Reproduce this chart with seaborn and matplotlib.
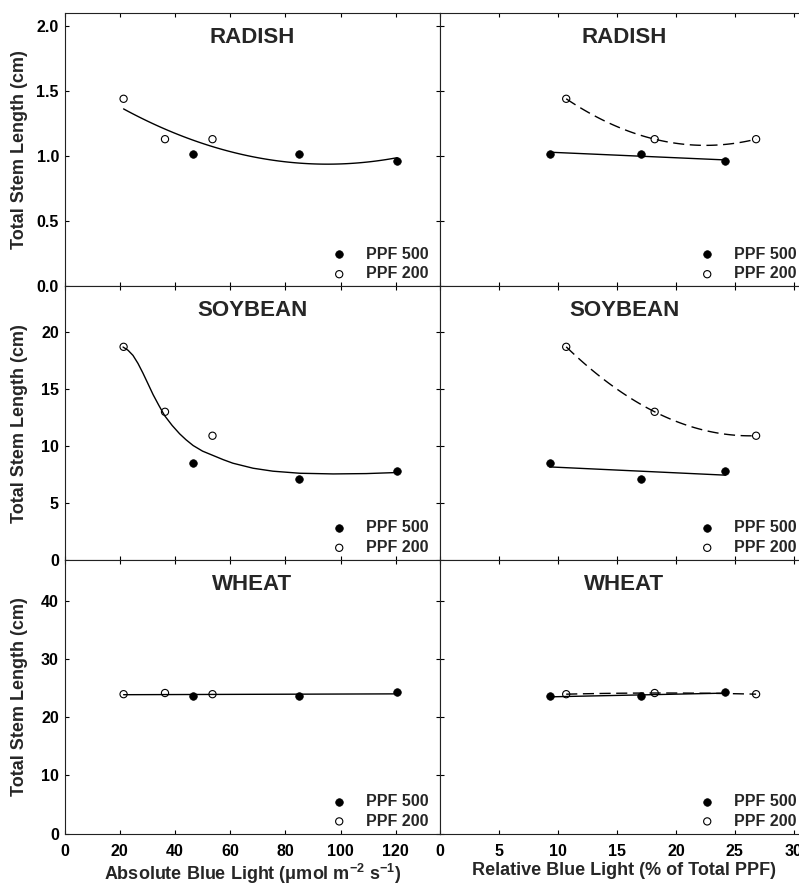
import numpy as np
import matplotlib
matplotlib.use("Agg")
import matplotlib.pyplot as plt
from matplotlib.ticker import MultipleLocator, FormatStrFormatter
import seaborn as sns

# blue light levels (absolute: umol m-2 s-1, relative: % of total PPF)
abs_500 = [46.5, 85.0, 120.5]
abs_200 = [21.4, 36.4, 53.6]
rel_500 = [9.3, 17.0, 24.2]
rel_200 = [10.7, 18.2, 26.8]

# total stem length (cm)
radish_500 = [1.02, 1.02, 0.96]
radish_200 = [1.44, 1.13, 1.13]
soy_500 = [8.5, 7.1, 7.8]
soy_200 = [18.7, 13.0, 10.9]
wheat_500 = [23.6, 23.6, 24.25]
wheat_200 = [23.95, 24.15, 23.95]

# soybean fitted curve vs absolute blue light
soy_curve_x = [21.2, 23.0, 24.8, 26.6, 28.4, 30.2, 32.1, 34.2, 36.3, 39.0, 41.7, 44.0,
               46.6, 50.0, 53.8, 57.5, 61.0, 68.3, 75.5, 85.2, 97.3, 109.3, 120.0]
soy_curve_y = [18.68, 18.40, 17.95, 17.25, 16.40, 15.48, 14.50, 13.55, 12.65, 11.80, 11.07, 10.55,
               10.04, 9.55, 9.17, 8.80, 8.49, 8.05, 7.79, 7.61, 7.55, 7.58, 7.67]

crops = ["RADISH", "SOYBEAN", "WHEAT"]
y_tops = [2.1, 24, 47]
y_steps = [0.5, 5, 10]

sns.set_style("ticks")
plt.rcParams["font.family"] = ["Liberation Sans", "DejaVu Sans"]
plt.rcParams["font.weight"] = "bold"
plt.rcParams["axes.labelweight"] = "bold"
plt.rcParams["mathtext.fontset"] = "custom"
plt.rcParams["mathtext.rm"] = "Liberation Sans:bold"
plt.rcParams["mathtext.it"] = "Liberation Sans:bold"
plt.rcParams["mathtext.bf"] = "Liberation Sans:bold"

W, H = 799, 886
fig = plt.figure(figsize=(W / 100, H / 100), dpi=100)

col_x = [64.5, 440.0]
col_w = [375.5, 368.0]
row_h = 273.6
row_top = [12.8, 286.4, 560.0]

solid = dict(color="black", lw=1.0)
dashed = dict(color="black", lw=1.0, ls=(0, (8, 4)))


def add_points(ax, x500, y500, x200, y200):
    sns.scatterplot(x=x500, y=y500, ax=ax, color="black", s=30, edgecolor="black",
                    linewidth=0.5, label="PPF 500", zorder=3)
    sns.scatterplot(x=x200, y=y200, ax=ax, facecolor="none", edgecolor="black", s=27,
                    linewidth=0.8, label="PPF 200", zorder=3)


def style_panel(ax, r, c):
    wpx = col_w[c]
    ax.set_ylim(0, y_tops[r])
    ax.yaxis.set_major_locator(MultipleLocator(y_steps[r]))
    if c == 0:
        ax.set_xlim(0, 136)
        ax.xaxis.set_major_locator(MultipleLocator(20))
    else:
        ax.set_xlim(0, 31.2)
        ax.xaxis.set_major_locator(MultipleLocator(5))
    if r == 0:
        ax.yaxis.set_major_formatter(FormatStrFormatter("%.1f"))
    ax.tick_params(direction="in", top=True, right=True, length=3, width=0.8,
                   labelsize=11.5, pad=4, colors="black")
    ax.tick_params(axis="x", pad=7.5)
    ax.tick_params(labelleft=(c == 0), labelbottom=(r == 2))
    for sp in ax.spines.values():
        sp.set_linewidth(0.8)
        sp.set_color("#222222")
        sp.set_visible(True)
    ax.text(0.5, 1 - 30 / row_h, crops[r], transform=ax.transAxes, ha="center",
            va="baseline", fontsize=16, fontweight="bold")
    ax.legend(loc="lower right", bbox_to_anchor=(1 - 11 / wpx, 5 / row_h), frameon=False,
              handlelength=1.0, handletextpad=1.2, labelspacing=0.3, borderpad=0,
              borderaxespad=0, prop={"weight": "bold", "size": 11.5})
    if c == 0:
        ax.set_ylabel("Total Stem Length (cm)", fontsize=13, fontweight="bold")
        ax.yaxis.set_label_coords(-(64.5 - 28) / wpx, 0.5)
    else:
        ax.set_ylabel("")


axes = [[None, None] for _ in range(3)]
for r in range(3):
    for c in range(2):
        left = col_x[c] / W
        bottom = 1 - (row_top[r] + row_h) / H
        axes[r][c] = fig.add_axes([left, bottom, col_w[c] / W, row_h / H])

series = [(radish_500, radish_200), (soy_500, soy_200), (wheat_500, wheat_200)]

for r, (y500, y200) in enumerate(series):
    ax_a = axes[r][0]
    ax_r = axes[r][1]
    x_all = np.array(abs_500 + abs_200)
    y_all = np.array(y500 + y200)

    # absolute blue light: one fit through both PPF levels
    if r == 0:
        sns.regplot(x=x_all, y=y_all, order=2, ci=None, scatter=False, ax=ax_a,
                    color="black", line_kws=solid)
    elif r == 1:
        sns.lineplot(x=soy_curve_x, y=soy_curve_y, ax=ax_a, sort=False, **solid)
    else:
        sns.regplot(x=x_all, y=y_all, order=1, ci=None, scatter=False, ax=ax_a,
                    color="black", line_kws=solid)
    add_points(ax_a, abs_500, y500, abs_200, y200)

    # relative blue light: separate fits per PPF level
    sns.regplot(x=np.array(rel_500), y=np.array(y500), order=1, ci=None, scatter=False,
                ax=ax_r, color="black", line_kws=solid)
    sns.regplot(x=np.array(rel_200), y=np.array(y200), order=2, ci=None, scatter=False,
                ax=ax_r, color="black", line_kws=dashed)
    add_points(ax_r, rel_500, y500, rel_200, y200)

    style_panel(ax_a, r, 0)
    style_panel(ax_r, r, 1)

axes[2][0].set_xlabel("Absolute Blue Light (\u03bcmol m$^{-2}$ s$^{-1}$)", fontsize=13,
                      fontweight="bold", labelpad=2)
axes[2][1].set_xlabel("Relative Blue Light (% of Total PPF)", fontsize=13,
                      fontweight="bold", labelpad=2)
for c in range(2):
    for r in range(2):
        axes[r][c].set_xlabel("")

fig.savefig("out.png", dpi=100)
